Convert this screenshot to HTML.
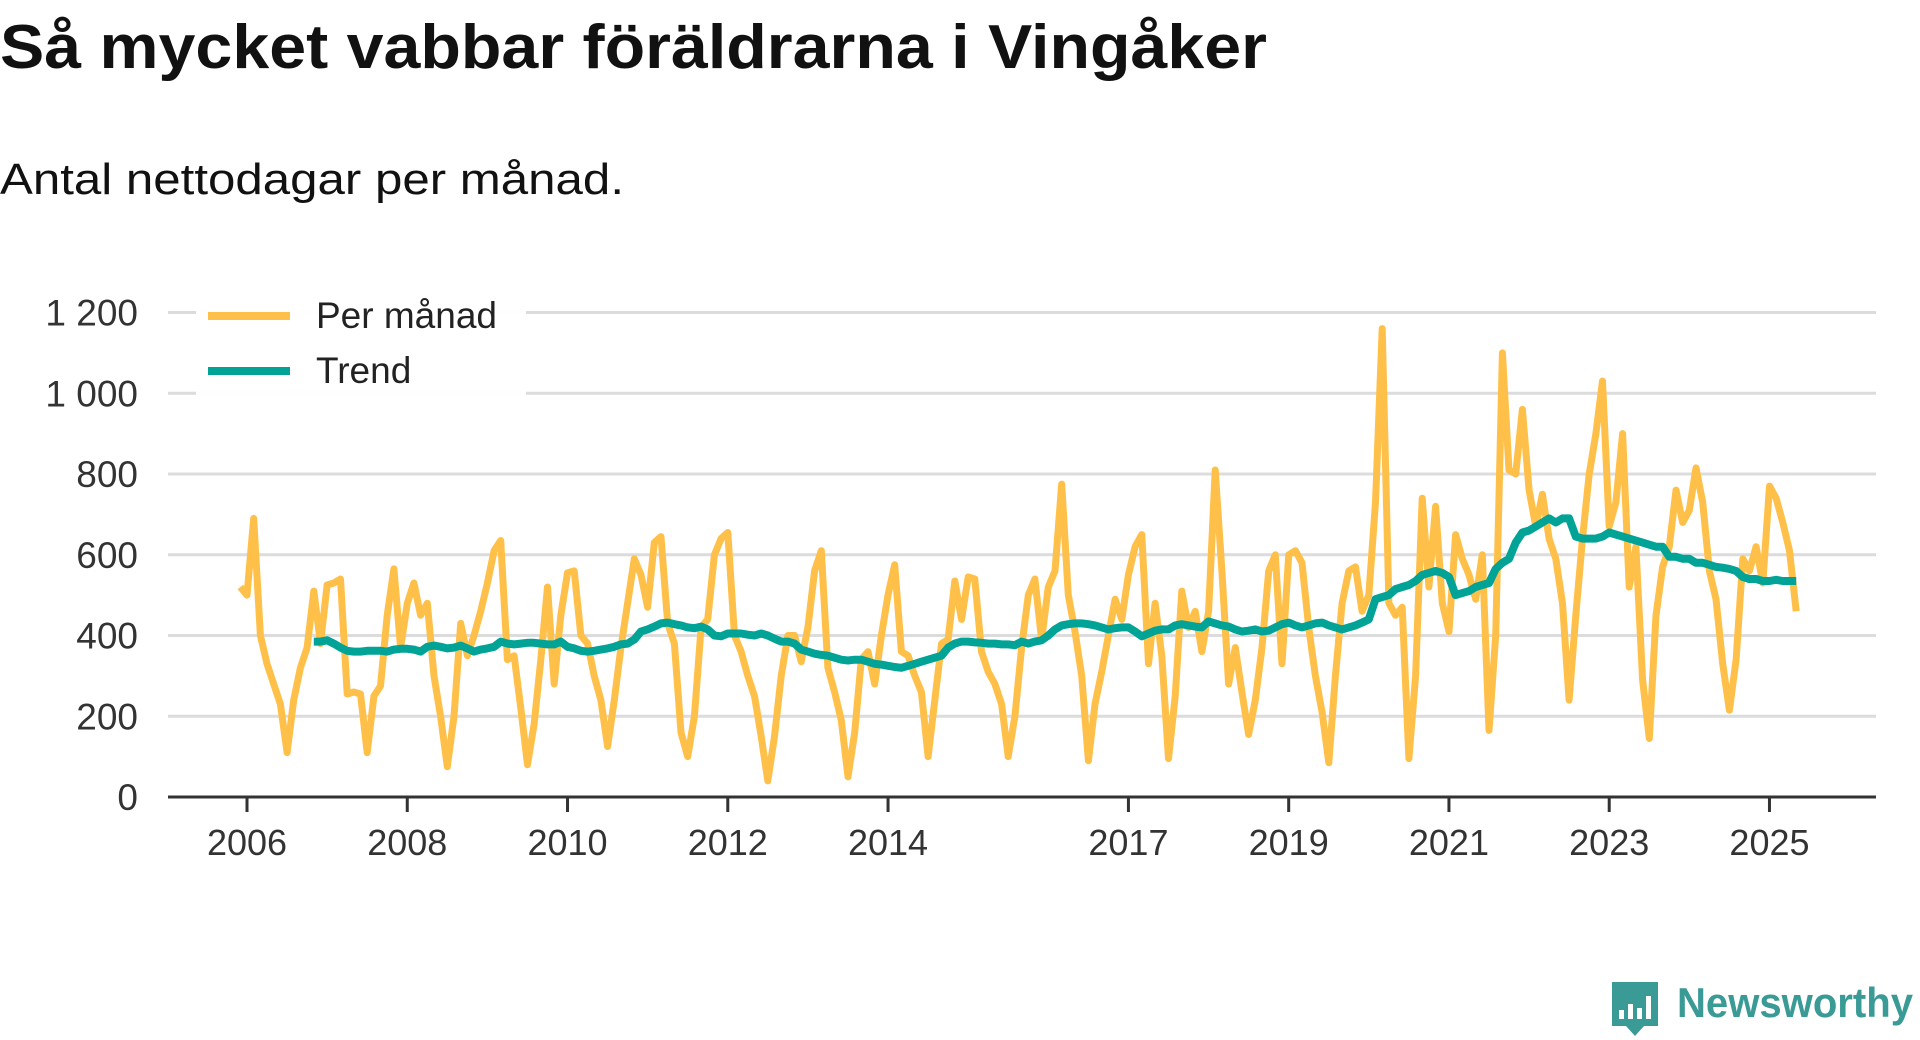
<!DOCTYPE html>
<html><head><meta charset="utf-8"><style>
html,body{margin:0;padding:0;background:#fff;width:1920px;height:1040px;overflow:hidden}
svg{display:block;font-family:"Liberation Sans","DejaVu Sans",sans-serif}
</style></head><body>
<svg id="chart" width="1920" height="1040" viewBox="0 0 1920 1040">
<text x="0" y="68" font-size="62" font-weight="bold" fill="#111" textLength="1267" lengthAdjust="spacingAndGlyphs">Så mycket vabbar föräldrarna i Vingåker</text>
<text x="0" y="194" font-size="44" fill="#111" textLength="624" lengthAdjust="spacingAndGlyphs">Antal nettodagar per månad.</text>
<g id="grid"></g>
<g id="yticks"></g>
<g id="xticks"></g>
<g id="series"></g>
<g>
<rect x="196" y="294" width="330" height="104" fill="#fff" fill-opacity="0.95"/>
<line x1="208" y1="316" x2="290" y2="316" stroke="#ffc04a" stroke-width="8"/>
<text x="316" y="328" font-size="37" fill="#222">Per månad</text>
<line x1="208" y1="371" x2="290" y2="371" stroke="#00a396" stroke-width="8"/>
<text x="316" y="383" font-size="37" fill="#222">Trend</text>
</g>
<g>
<path d="M1612 982 h46 v44 h-14 l-9 10 l-9 -10 h-14 z" fill="#3a9a95"/>
<rect x="1619" y="1010" width="5" height="9" fill="#fff"/>
<rect x="1628" y="1004" width="5" height="15" fill="#fff"/>
<rect x="1637" y="1008" width="5" height="11" fill="#fff"/>
<rect x="1646" y="996" width="5" height="23" fill="#fff"/>
<text x="1677" y="1017" font-size="42" font-weight="bold" fill="#3a9a95" textLength="236" lengthAdjust="spacingAndGlyphs">Newsworthy</text>
</g>
</svg>
<script>
const yTicks=[0,200,400,600,800,1000,1200];
const yTickLabels=["0","200","400","600","800","1 000","1 200"];
const xTickYears=[2006,2008,2010,2012,2014,2017,2019,2021,2023,2025];
const monthlyStart=-1; // Dec 2005 (months since Jan 2006)
const monthly=[520,
500,690,400,330,280,230,110,240,320,370,510,380,
525,530,540,255,260,255,110,250,275,450,565,370,
480,530,450,480,300,200,75,200,430,350,400,460,
530,610,635,340,350,220,80,180,340,520,280,450,
555,560,400,380,300,240,125,240,370,480,590,550,
470,630,645,430,380,160,100,200,420,440,600,640,
655,400,360,300,250,150,40,150,300,400,400,335,
420,560,610,320,260,190,50,160,340,360,280,400,
500,575,360,350,300,260,100,240,380,390,535,440,
545,540,360,310,280,230,100,200,370,500,540,390,
520,560,775,500,410,300,90,230,310,400,490,440,
550,620,650,330,480,350,95,250,510,420,460,360,
460,810,560,280,370,260,155,240,370,560,600,330,
600,610,580,420,300,210,85,300,480,560,570,460,
500,730,1160,480,450,470,95,300,740,520,720,480,
410,650,590,550,490,600,165,400,1100,810,800,960,
760,670,750,640,590,480,240,450,640,800,900,1030,
670,730,900,520,620,290,145,450,570,620,760,680,
710,815,730,560,490,330,215,340,590,560,620,530,
770,740,680,610,460];
const trendStart=10; // Nov 2006
const trend=[385,385,
388,380,370,362,360,360,362,362,362,360,365,367,
367,365,360,372,375,372,368,370,375,368,360,365,
368,372,385,380,378,380,382,382,380,378,378,385,
372,368,362,360,362,365,368,372,378,380,390,410,
415,422,430,432,428,425,420,418,422,415,400,398,
405,405,405,402,400,405,400,392,385,385,380,365,
360,355,352,350,345,340,338,340,340,335,330,328,
325,322,320,325,330,335,340,345,350,370,380,385,
385,383,382,380,380,378,378,376,385,380,385,388,
400,415,425,428,430,430,428,425,420,415,418,420,
420,410,398,405,412,415,415,425,428,425,422,420,
435,430,425,422,415,410,412,415,410,412,420,428,
432,425,420,425,430,432,425,420,415,420,425,432,
440,490,495,500,515,520,525,535,550,555,560,555,
545,500,505,510,520,525,530,565,580,590,630,655,
660,670,680,690,680,690,690,645,640,640,640,645,
655,650,645,640,635,630,625,620,620,595,595,590,
590,580,580,575,570,568,565,560,545,540,540,535,
535,538,535,535,535];

const NS='http://www.w3.org/2000/svg';
const X0=168,X1=1876;
function xScale(m){return 247+m*80.13/12;}
function yScale(v){return 797-v*0.40375;}
function mk(tag,attrs,parent){const e=document.createElementNS(NS,tag);for(const k in attrs)e.setAttribute(k,attrs[k]);parent.appendChild(e);return e;}
const grid=document.getElementById('grid'),yt=document.getElementById('yticks'),xt=document.getElementById('xticks'),ser=document.getElementById('series');
yTicks.forEach((v,i)=>{
  if(v>0){const g=mk('line',{x1:X0,x2:X1,y1:yScale(v),y2:yScale(v),stroke:'#dcdcdc','stroke-width':3},grid);
  
  }
  const t=mk('text',{x:138,y:yScale(v)+13,'font-size':37,fill:'#333','text-anchor':'end'},yt);
  t.textContent=yTickLabels[i];
  
  
});
const ax=mk('line',{x1:X0,x2:X1,y1:797,y2:797,stroke:'#333','stroke-width':3},xt);


xTickYears.forEach(yr=>{
  const x=xScale((yr-2006)*12);
  const tk=mk('line',{x1:x,x2:x,y1:797,y2:812,stroke:'#333','stroke-width':3},xt);
  
  
  const t=mk('text',{x:x,y:855,'font-size':36,fill:'#333','text-anchor':'middle'},xt);
  t.textContent=String(yr);
  
  
});
function pts(arr,start){return arr.map((v,i)=>xScale(start+i).toFixed(1)+','+yScale(v).toFixed(1)).join(' ');}
const l1=mk('polyline',{points:pts(monthly,monthlyStart),fill:'none',stroke:'#ffc04a','stroke-width':7,'stroke-linejoin':'round','stroke-linecap':'butt'},ser);


const l2=mk('polyline',{points:pts(trend,trendStart),fill:'none',stroke:'#00a396','stroke-width':8,'stroke-linejoin':'round'},ser);


</script>
</body></html>
